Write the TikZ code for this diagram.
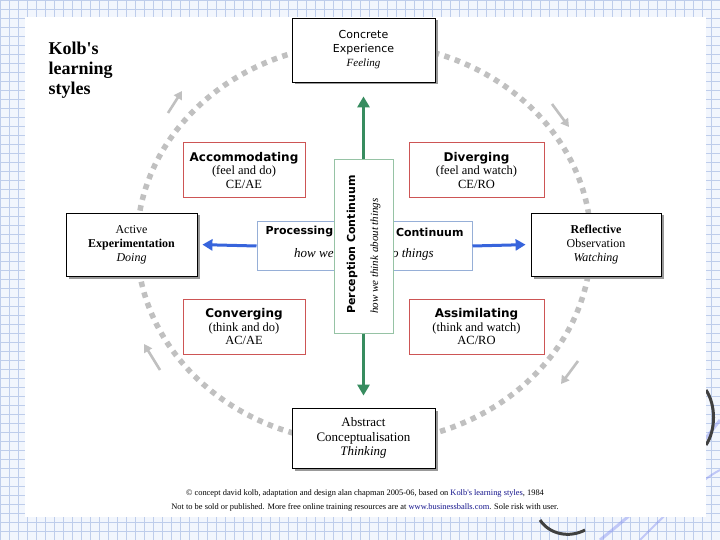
\documentclass[tikz,border=0pt]{standalone}
\usepackage{fontspec}
\setmainfont{Liberation Serif}
\setsansfont{DejaVu Sans}
\usetikzlibrary{arrows.meta}
\definecolor{gridblue}{RGB}{190,205,235}
\definecolor{paper}{RGB}{242,246,253}
\definecolor{boxred}{RGB}{205,85,85}
\definecolor{arrgreen}{RGB}{55,140,95}
\definecolor{arrblue}{RGB}{55,100,220}
\definecolor{percgreen}{RGB}{150,195,165}
\definecolor{procblue}{RGB}{150,175,215}
\definecolor{dotgray}{RGB}{192,192,192}
\definecolor{linkblue}{RGB}{20,20,140}
\tikzset{
  polebox/.style={draw=black, fill=white, line width=0.8pt, align=center},
  sanspole/.style={polebox, font=\sffamily\fontsize{11}{13.5}\selectfont},
  serifpole/.style={polebox, font=\fontsize{12}{14}\selectfont},
  quadbox/.style={draw=boxred, fill=white, line width=1pt, align=center, minimum height=55pt,
     font=\fontsize{12.5}{13.5}\selectfont},
  greenarrow/.style={draw=arrgreen, line width=3.5pt, -{Triangle[length=11pt,width=12pt]}},
  bluearrow/.style={draw=arrblue, line width=3pt, -{Triangle[length=10pt,width=11pt]}},
  cyclearrow/.style={draw=dotgray, line width=2.6pt, -{Triangle[length=8pt,width=9pt]}},
  shade/.style={fill=black!40, draw=none},
}
\newcommand{\qt}[1]{{\sffamily\bfseries\fontsize{12}{13}\selectfont #1}}
\begin{document}
\begin{tikzpicture}[x=1pt,y=-1pt]
\useasboundingbox (0,0) rectangle (720,540);
% graph paper background
\fill[paper] (0,0) rectangle (720,540);
\draw[gridblue, line width=0.5pt, step=9pt] (0,0) grid (720,540);
% decorations
\draw[gridblue!70!blue, line width=3pt, opacity=0.45] (600,540) .. controls (650,500) and (690,460) .. (720,420);
\draw[gridblue!70!blue, line width=2pt, opacity=0.45] (640,540) .. controls (670,510) and (700,480) .. (720,470);
\draw[black!75, line width=3pt] (706,390) .. controls (716,405) and (716,430) .. (706,445);
\draw[black!75, line width=3pt] (540,520) .. controls (550,535) and (570,538) .. (585,530);
% white panel
\fill[white] (25,17) rectangle (706,517);
% title
\node[anchor=north west, align=left, font=\bfseries\fontsize{18}{20}\selectfont] (title) at (45,38)
  {Kolb\textquotesingle s\\learning\\styles};
% dotted cycle
\draw[dotgray, line width=5.5pt, dash pattern=on 5.5pt off 5.5pt] (364,243) ellipse [x radius=227, y radius=200];
% cycle arrows
\coordinate (a1s) at (168,113); \coordinate (a1e) at (182,91);
\coordinate (a2s) at (552,104); \coordinate (a2e) at (569,127);
\coordinate (a3s) at (578,361); \coordinate (a3e) at (561,384);
\coordinate (a4s) at (160,370); \coordinate (a4e) at (144,344);
\draw[cyclearrow] (a1s) -- (a1e);
\draw[cyclearrow] (a2s) -- (a2e);
\draw[cyclearrow] (a3s) -- (a3e);
\draw[cyclearrow] (a4s) -- (a4e);
% shadows
\fill[shade] (294.5,20.5) rectangle (437.5,84.5);
\fill[shade] (294.5,410.5) rectangle (437.5,470.5);
\fill[shade] (68.5,215.5) rectangle (199.5,278.5);
\fill[shade] (533.5,215.5) rectangle (663.5,278.5);
% pole boxes
\node[sanspole, minimum width=143pt, minimum height=64pt] (conc) at (363.5,50)
  {Concrete\\Experience\\[1pt]{\rmfamily\itshape\fontsize{11}{12}\selectfont Feeling}};
\node[serifpole, font=\fontsize{13}{14.5}\selectfont, minimum width=143pt, minimum height=60pt] (abst) at (363.5,438)
  {Abstract\\Conceptualisation\\\itshape Thinking};
\node[serifpole, minimum width=131pt, minimum height=63pt] (actv) at (131.5,244.5)
  {Active\\\textbf{Experimentation}\\\itshape Doing};
\node[serifpole, minimum width=130pt, minimum height=63pt] (refl) at (596,244.5)
  {\textbf{Reflective}\\Observation\\\itshape Watching};
% quadrants
\node[quadbox, minimum width=122pt] (acc) at (244,170.5)
  {\qt{Accommodating}\\(feel and do)\\CE/AE};
\node[quadbox, minimum width=135pt] (div) at (476.5,170.5)
  {\qt{Diverging}\\(feel and watch)\\CE/RO};
\node[quadbox, minimum width=122pt] (con) at (244,327)
  {\qt{Converging}\\(think and do)\\AC/AE};
\node[quadbox, minimum width=135pt] (ass) at (476.5,327)
  {\qt{Assimilating}\\(think and watch)\\AC/RO};
% processing continuum
\node[draw=procblue, fill=white, line width=1pt, minimum width=215pt, minimum height=48pt] (proc) at (364.5,246) {};
\node[anchor=west, font=\sffamily\bfseries\fontsize{11}{13}\selectfont] (procl) at (262,232) {Processing};
\node[anchor=east, font=\sffamily\bfseries\fontsize{11}{13}\selectfont] (procr) at (467,232) {Continuum};
\node[anchor=west, inner sep=0pt, font=\itshape\fontsize{13}{14}\selectfont] (proci) at (294,254) {how we\hspace{48.8pt} do things};
% perception continuum
\node[draw=percgreen, fill=white, line width=1pt, minimum width=59pt, minimum height=173pt] (perc) at (363.5,246.5) {};
\node[rotate=90, align=left, font=\fontsize{11}{23}\selectfont] (perct) at (363.5,244.5)
  {{\sffamily\bfseries Perception Continuum}\\{\itshape how we think about things}};
% arrows
\draw[greenarrow, shorten >=14pt] (perc.north) -- (conc.south);
\draw[greenarrow, shorten >=12pt] (perc.south) -- (abst.north);
\draw[bluearrow, shorten >=5pt] (proc.west) -- (actv.east);
\draw[bluearrow, shorten >=5pt] (proc.east) -- (refl.west);
% footer
\node[font=\fontsize{8.4}{14}\selectfont, align=center] (foot) at (365,500)
  {\textcopyright\ concept david kolb, adaptation and design alan chapman 2005-06, based on \textcolor{linkblue}{Kolb\textquotesingle s learning styles}, 1984\\
   Not to be sold or published. More free online training resources are at \textcolor{linkblue}{www.businessballs.com}. Sole risk with user.};
\end{tikzpicture}
\end{document}
